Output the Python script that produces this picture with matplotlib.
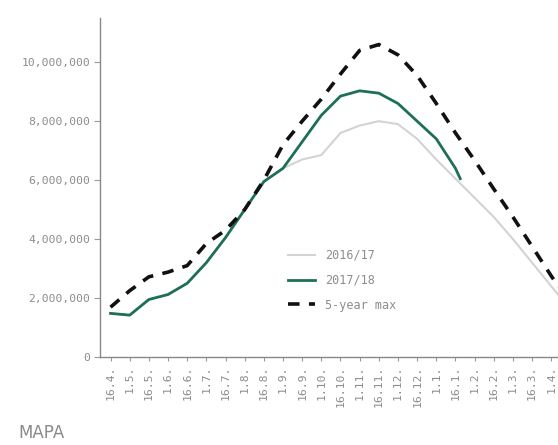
import matplotlib
matplotlib.use("Agg")
import matplotlib.pyplot as plt

categories = ["16.4.", "1.5.", "16.5.", "1.6.", "16.6.", "1.7.", "16.7.", "1.8.",
              "16.8.", "1.9.", "16.9.", "1.10.", "16.10.", "1.11.", "16.11.", "1.12.",
              "16.12.", "1.1.", "16.1.", "1.2.", "16.2.", "1.3.", "16.3.", "1.4.", "16.4."]

# values in millions, one per category (half-month period index)
s2016_17 = [1.48, 1.42, 1.95, 2.12, 2.5, 3.2, 4.05, 5.0, 5.95, 6.4, 6.7, 6.85, 7.6,
            7.85, 8.0, 7.9, 7.4, 6.7, 6.05, 5.4, 4.75, 4.0, 3.2, 2.4, 1.6]
s2017_18_x = [0, 1, 2, 3, 4, 5, 6, 7, 8, 9, 10, 11, 12, 13, 14, 15, 16, 17, 18, 18.25]
s2017_18 = [1.48, 1.42, 1.95, 2.12, 2.5, 3.2, 4.05, 5.0, 5.95, 6.4, 7.3, 8.2, 8.85,
            9.03, 8.95, 8.6, 8.0, 7.4, 6.4, 6.05]
max5 = [1.69, 2.25, 2.72, 2.88, 3.1, 3.85, 4.3, 5.0, 6.0, 7.2, 8.0, 8.75, 9.6,
        10.4, 10.6, 10.25, 9.55, 8.6, 7.6, 6.67, 5.7, 4.75, 3.75, 2.75, 1.8]

yticks = [0, 2, 4, 6, 8, 10]
ytick_labels = ["0", "2,000,000", "4,000,000", "6,000,000", "8,000,000", "10,000,000"]

W, H = 558, 445
fig = plt.figure(figsize=(W / 100, H / 100), dpi=100)
ax = fig.add_axes([100 / W, 88 / H, 480 / W, 339 / H])

xs = list(range(len(categories)))
ax.plot(xs, s2016_17, color="#d3d3d3", lw=1.5, label="2016/17", zorder=2)
ax.plot(s2017_18_x, s2017_18, color="#1e7052", lw=2.0, label="2017/18", zorder=3)
ax.plot(xs, max5, color="#111111", lw=2.6, dashes=(3.2, 2.6), label="5-year max", zorder=4)

ax.set_xlim(-0.55, 24.5)
ax.set_ylim(0, 11.5)

ax.set_xticks(xs)
ax.set_xticklabels(categories, rotation=90, family="DejaVu Sans Mono",
                   fontsize=8.2, color="#8c8c8c")
ax.set_yticks(yticks)
ax.set_yticklabels(ytick_labels, family="DejaVu Sans Mono", fontsize=8.2, color="#8c8c8c")
ax.tick_params(axis="x", length=3, color="#999999", pad=3)
ax.tick_params(axis="y", length=4, color="#999999", pad=3)

for s in ["top", "right"]:
    ax.spines[s].set_visible(False)
for s in ["left", "bottom"]:
    ax.spines[s].set_color("#888888")
    ax.spines[s].set_linewidth(1.0)

leg = ax.legend(loc="upper left", bbox_to_anchor=(0.37, 0.35), frameon=False,
                prop={"family": "DejaVu Sans Mono", "size": 8.5}, handlelength=2.3,
                labelspacing=1.0, handletextpad=0.8)
for t in leg.get_texts():
    t.set_color("#8c8c8c")

fig.text(18 / W, 3 / H, "MAPA", fontsize=12, color="#8a8a8a", ha="left", va="bottom")

fig.savefig("out.png", dpi=100)
